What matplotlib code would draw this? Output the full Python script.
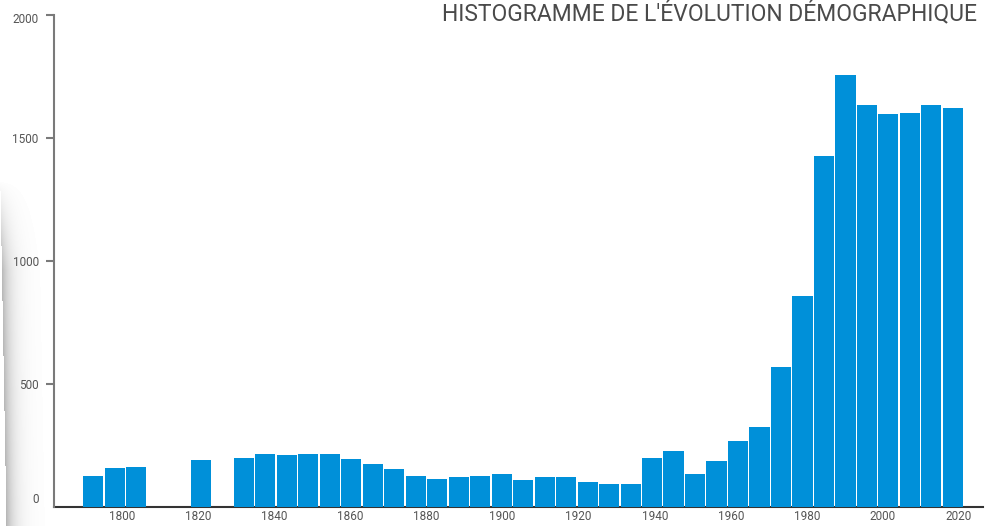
import numpy as np
import matplotlib.pyplot as plt
from matplotlib.transforms import ScaledTranslation

# population per bar slot (0 = no census value in that slot)
values = [126, 159, 163, 0, 0, 191, 0, 199, 215, 211, 215, 215,
          195, 175, 154, 126, 114, 122, 126, 134, 110, 122, 122,
          102, 94, 94, 199, 228, 134, 187, 268, 325, 569, 858,
          1427, 1756, 1634, 1598, 1602, 1634, 1622]
year_ticks = [1800, 1820, 1840, 1860, 1880, 1900, 1920, 1940, 1960, 1980, 2000, 2020]
y_ticks = [0, 500, 1000, 1500, 2000]
title = "HISTOGRAMME DE L'ÉVOLUTION DÉMOGRAPHIQUE"

plt.rcParams['font.family'] = ['Roboto', 'DejaVu Sans']

fig = plt.figure(figsize=(9.9, 5.26), dpi=100)

# soft page shadow on the left edge
bg = fig.add_axes([0, 0, 1, 1], zorder=-5)
W, H = 990, 526
yy, xx = np.mgrid[0:H, 0:W]
edge = np.clip((yy - 190) / 330.0, 0, 1) * 6
d = xx - edge
shade = np.where(d >= 0, np.exp(-d / 9.0), 0.0)
vert = np.clip((yy - 180) / 90.0, 0, 1)
shade = shade * vert * 0.28
shade[shade < 0.004] = 0
img = np.ones((H, W, 3)) * (1 - shade[..., None])
bg.imshow(img, extent=[0, 1, 0, 1], aspect='auto', origin='upper',
          interpolation='nearest')
bg.axis('off')

ax = fig.add_axes([54 / 990, 19 / 526, (983 - 54) / 990, (507 - 15) / 526])
ax.patch.set_alpha(0)

# bar slots are evenly spaced on the year axis
first = 1792.4
step = 5.65
x = [first + i * step for i in range(len(values))]
ax.bar(x, values, width=5.27, color='#0090d9', zorder=3)

ax.set_xlim(1782.1, 2026.3)
ax.set_ylim(0, 2000)

for s in ['top', 'right']:
    ax.spines[s].set_visible(False)
ax.spines['left'].set_color('#7a7a7a')
ax.spines['left'].set_linewidth(1.5)
ax.spines['bottom'].set_color('#333333')
ax.spines['bottom'].set_linewidth(1.5)
ax.spines['bottom'].set_zorder(2)

ax.set_yticks(y_ticks)
ax.set_yticklabels([str(v) for v in y_ticks])
ax.tick_params(axis='y', length=6, width=1.5, color='#7a7a7a', labelcolor='#555555',
               labelsize=8.5, pad=5)
ax.set_xticks(year_ticks)
ax.set_xticklabels([str(v) for v in year_ticks])
ax.tick_params(axis='x', length=0, labelcolor='#555555', labelsize=8.5, pad=2)

# no tick at zero, label sits slightly above the baseline
ax.yaxis.get_major_ticks()[0].tick1line.set_visible(False)
lab0 = ax.get_yticklabels()[0]
lab0.set_transform(lab0.get_transform() + ScaledTranslation(0, 9 / 100, fig.dpi_scale_trans))
lab_top = ax.get_yticklabels()[-1]
lab_top.set_transform(lab_top.get_transform() + ScaledTranslation(0, -3 / 100, fig.dpi_scale_trans))

fig.text(977 / 990, 1 - 13 / 526, title, ha='right', va='center', fontsize=16.5,
         color='#4a4a4a')

fig.savefig('out.png', dpi=100)
